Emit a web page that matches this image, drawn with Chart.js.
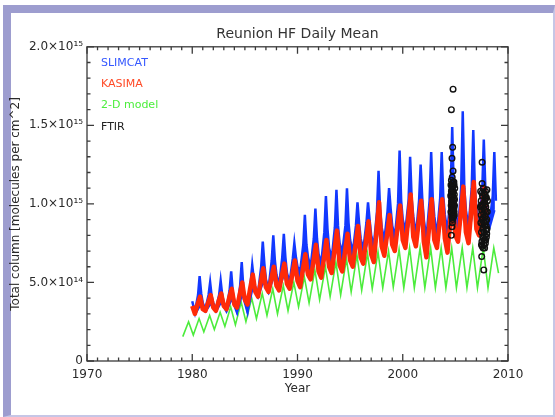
<!DOCTYPE html>
<html>
<head>
<meta charset="utf-8">
<script src="https://cdn.jsdelivr.net/npm/chart.js@4.4.0/dist/chart.umd.min.js"></script>
<style>
  html, body { margin: 0; padding: 0; background: #fff; }
  #wrap { position: relative; width: 555px; height: 417px; }
  #frame {
    position: absolute; left: 3px; top: 5px; width: 552px; height: 412px;
    box-sizing: border-box; border-style: solid; border-width: 8px 2px 2px 8px;
    border-color: #9d9dcf #c6c6e6 #c6c6e6 #9d9dcf;
  }
  #chart { position: absolute; left: 0; top: 0; }
</style>
</head>
<body>
<div id="wrap">
  <div id="frame"></div>
  <canvas id="chart" width="555" height="417"></canvas>
</div>
<script>
// values are in units of 10^15 molecules/cm2
const xTickLabels = ['1970', '1980', '1990', '2000', '2010'];
const yTickLabels = ['0', '5.0×10¹⁴', '1.0×10¹⁵', '1.5×10¹⁵', '2.0×10¹⁵'];
const seriesNames = ['SLIMCAT', 'KASIMA', '2-D model', 'FTIR'];

// SLIMCAT upper edge of the daily band, one row per year from 1980, sampled at year + slimcatPhases
const slimcatFirstYear = 1980;
const slimcatPhases = [0.0, 0.25, 0.55, 0.7, 0.85];
const slimcatRows = [
  [0.38, 0.31, 0.42, 0.54, 0.43], [0.37, 0.33, 0.42, 0.50, 0.41], [0.37, 0.33, 0.42, 0.51, 0.42],
  [0.37, 0.33, 0.45, 0.57, 0.44], [0.38, 0.32, 0.48, 0.63, 0.47], [0.40, 0.32, 0.50, 0.61, 0.52],
  [0.46, 0.43, 0.60, 0.76, 0.62], [0.52, 0.46, 0.64, 0.80, 0.64], [0.55, 0.48, 0.66, 0.81, 0.66],
  [0.56, 0.50, 0.65, 0.75, 0.66], [0.60, 0.57, 0.74, 0.93, 0.74], [0.66, 0.60, 0.78, 0.97, 0.78],
  [0.68, 0.62, 0.82, 1.05, 0.84], [0.72, 0.65, 0.85, 1.09, 0.86], [0.75, 0.69, 0.86, 1.10, 0.88],
  [0.77, 0.69, 0.86, 1.01, 0.88], [0.78, 0.71, 0.88, 1.01, 0.90], [0.80, 0.73, 0.95, 1.21, 0.96],
  [0.85, 0.77, 0.95, 1.10, 0.97], [0.86, 0.79, 1.00, 1.34, 1.02], [0.90, 0.83, 1.02, 1.30, 1.03],
  [0.92, 0.80, 1.02, 1.25, 1.04], [0.90, 0.78, 1.02, 1.33, 1.04], [0.92, 0.80, 1.03, 1.33, 1.05],
  [0.93, 0.82, 1.08, 1.49, 1.08], [0.95, 0.84, 1.10, 1.59, 1.10], [0.96, 0.85, 1.10, 1.47, 1.10],
  [0.97, 0.88, 1.08, 1.41, 1.10], [0.97, 0.88, 1.05, 1.33, 1.02]
];
// SLIMCAT lower edge of the daily band
const slimcatLowPhases = [0.25, 0.75];
const slimcatLowRows = [
  [0.29, 0.35], [0.31, 0.36], [0.31, 0.37], [0.31, 0.39], [0.30, 0.42], [0.30, 0.46],
  [0.40, 0.50], [0.43, 0.53], [0.45, 0.55], [0.46, 0.57], [0.49, 0.60], [0.53, 0.65],
  [0.55, 0.68], [0.58, 0.72], [0.60, 0.72], [0.62, 0.75], [0.64, 0.78], [0.66, 0.85],
  [0.70, 0.83], [0.72, 0.88], [0.75, 0.92], [0.74, 0.92], [0.70, 0.90], [0.74, 0.92],
  [0.72, 0.92], [0.78, 0.96], [0.78, 0.98], [0.82, 0.98], [0.84, 0.96]
];

// KASIMA
const kasimaFirstYear = 1980;
const kasimaPhases = [0.0, 0.25, 0.5, 0.75, 0.9];
const kasimaRows = [
  [0.35, 0.30, 0.36, 0.41, 0.36], [0.33, 0.32, 0.37, 0.42, 0.37], [0.34, 0.32, 0.38, 0.43, 0.38],
  [0.35, 0.33, 0.40, 0.46, 0.40], [0.36, 0.34, 0.42, 0.50, 0.43], [0.39, 0.36, 0.46, 0.55, 0.48],
  [0.44, 0.41, 0.50, 0.59, 0.51], [0.47, 0.44, 0.52, 0.60, 0.53], [0.48, 0.45, 0.54, 0.62, 0.54],
  [0.49, 0.46, 0.55, 0.64, 0.56], [0.51, 0.47, 0.58, 0.68, 0.59], [0.55, 0.52, 0.63, 0.74, 0.64],
  [0.57, 0.53, 0.65, 0.77, 0.66], [0.60, 0.56, 0.70, 0.83, 0.70], [0.61, 0.57, 0.69, 0.81, 0.70],
  [0.64, 0.60, 0.73, 0.86, 0.74], [0.66, 0.62, 0.76, 0.89, 0.77], [0.68, 0.63, 0.82, 1.01, 0.83],
  [0.73, 0.67, 0.80, 0.93, 0.81], [0.74, 0.70, 0.85, 0.99, 0.86], [0.77, 0.72, 0.89, 1.06, 0.90],
  [0.79, 0.73, 0.88, 1.02, 0.89], [0.76, 0.66, 0.85, 1.03, 0.86], [0.77, 0.72, 0.88, 1.03, 0.88],
  [0.78, 0.69, 0.88, 1.07, 0.89], [0.80, 0.76, 0.93, 1.11, 0.93], [0.82, 0.75, 0.95, 1.14, 0.95],
  [0.84, 0.80, 0.95, 1.10, 0.90]
];

// 2-D model: seasonal minimum and maximum per year
const modelFirstYear = 1979;
const modelPhases = [0.1, 0.65];
const modelRows = [
  [0.155, 0.25], [0.165, 0.27], [0.185, 0.29], [0.20, 0.31], [0.22, 0.345], [0.23, 0.375],
  [0.25, 0.40], [0.27, 0.43], [0.29, 0.46], [0.30, 0.48], [0.32, 0.50], [0.345, 0.535],
  [0.37, 0.58], [0.39, 0.60], [0.41, 0.63], [0.42, 0.65], [0.44, 0.675], [0.45, 0.685],
  [0.46, 0.695], [0.465, 0.70], [0.47, 0.71], [0.465, 0.72], [0.465, 0.72], [0.465, 0.72],
  [0.465, 0.72], [0.465, 0.72], [0.465, 0.72], [0.465, 0.72], [0.465, 0.72], [0.465, 0.72],
  [0.56, null]
];

// FTIR daily means
const ftirYears = [
  2004.78, 2004.62, 2004.74, 2004.68, 2004.78, 2004.70, 2004.72, 2004.68, 2004.62,
  2004.58, 2004.62, 2004.66, 2004.70, 2004.74, 2004.78, 2004.82, 2004.86, 2004.90, 2004.94,
  2004.60, 2004.64, 2004.68, 2004.72, 2004.76, 2004.80, 2004.84, 2004.88, 2004.92, 2004.56,
  2004.70, 2004.86, 2004.62, 2004.80, 2004.66, 2004.74, 2004.90, 2004.58,
  2004.64, 2004.72, 2004.80, 2004.88, 2004.60, 2004.68, 2004.76, 2004.84, 2004.92, 2004.66,
  2004.74, 2004.82, 2004.70, 2004.78, 2004.86, 2004.64, 2004.72,
  2007.54, 2007.54, 2007.50, 2007.70,
  2007.40, 2007.45, 2007.50, 2007.55, 2007.60, 2007.65, 2007.70, 2007.75, 2007.80, 2007.85,
  2007.90, 2007.95, 2008.00, 2007.42, 2007.48, 2007.52, 2007.58, 2007.62, 2007.68, 2007.72,
  2007.78, 2007.82, 2007.88, 2007.92, 2007.98, 2008.03, 2007.45, 2007.55, 2007.65, 2007.75,
  2007.85, 2007.95, 2008.05, 2007.38, 2007.60, 2007.70, 2007.80, 2007.90, 2008.00,
  2007.44, 2007.52, 2007.62, 2007.72, 2007.84, 2007.94, 2007.48, 2007.58, 2007.68, 2007.78,
  2007.88, 2007.98, 2007.56, 2007.66, 2007.76, 2007.86, 2007.64, 2007.74, 2007.82, 2007.92
];
const ftirValues = [
  1.73, 1.60, 1.36, 1.29, 1.21, 1.17, 0.88, 0.855, 0.80,
  1.12, 1.08, 1.04, 1.00, 0.96, 0.93, 0.97, 1.02, 1.06, 1.10,
  0.99, 0.94, 1.11, 1.13, 1.07, 1.03, 0.92, 0.95, 0.99, 1.05,
  0.91, 1.14, 1.15, 1.12, 0.97, 1.05, 0.93, 0.95,
  1.01, 0.98, 1.08, 1.12, 1.06, 0.92, 1.14, 0.99, 1.03, 1.09,
  0.90, 0.95, 1.07, 1.00, 0.97, 1.02, 1.10,
  1.265, 1.13, 0.665, 0.58,
  1.08, 1.02, 0.96, 0.90, 0.84, 0.78, 0.74, 0.80, 0.86, 0.92,
  0.98, 1.04, 1.09, 0.88, 0.82, 0.76, 1.05, 1.00, 0.94, 0.88,
  0.72, 1.06, 0.77, 0.83, 0.90, 0.95, 0.93, 0.73, 1.10, 1.01,
  0.75, 0.79, 1.02, 0.98, 0.79, 1.07, 0.96, 0.89, 0.84,
  0.99, 1.07, 0.91, 0.82, 1.00, 0.86, 0.74, 0.87, 0.97, 0.92,
  1.04, 0.81, 0.99, 0.85, 0.77, 1.08, 0.72, 0.89, 1.03, 0.95
];

const seriesColors = ['#1238ff', '#ff2a08', '#4cec3c', '#111111'];
const labelColors = ['#3558ff', '#ff4a26', '#4cee3c', '#222222'];

const toPoints = (rows, firstYear, phases) => rows.flatMap((row, i) =>
  row.map((v, j) => ({ x: firstYear + i + phases[j], y: v })).filter(p => p.y !== null));

Chart.defaults.font.family = "'DejaVu Sans', sans-serif";
Chart.defaults.color = '#2a2a2a';

const boxTicks = {
  id: 'boxTicks',
  afterDatasetsDraw(chart) {
    const { ctx, chartArea: a, scales: { x, y } } = chart;
    ctx.save();
    ctx.strokeStyle = '#3a3a3a';
    ctx.lineWidth = 1.3;
    ctx.strokeRect(a.left, a.top, a.right - a.left, a.bottom - a.top);
    ctx.beginPath();
    for (let yr = x.min; yr <= x.max; yr++) {
      const px = x.getPixelForValue(yr);
      const len = yr % 10 === 0 ? 7 : 3.5;
      ctx.moveTo(px, a.bottom); ctx.lineTo(px, a.bottom - len);
      ctx.moveTo(px, a.top); ctx.lineTo(px, a.top + len);
    }
    for (let k = 0; k <= 20; k++) {
      const py = y.getPixelForValue(k / 10);
      const len = k % 5 === 0 ? 7 : 3.5;
      ctx.moveTo(a.left, py); ctx.lineTo(a.left + len, py);
      ctx.moveTo(a.right, py); ctx.lineTo(a.right - len, py);
    }
    ctx.stroke();

    // legend text in upper left corner
    ctx.font = "11px 'DejaVu Sans', sans-serif";
    ctx.textBaseline = 'middle';
    seriesNames.forEach((name, i) => {
      ctx.fillStyle = labelColors[i];
      ctx.fillText(name, a.left + 14, a.top + 16 + i * 21.3);
    });
    ctx.restore();
  }
};

new Chart(document.getElementById('chart'), {
  type: 'line',
  data: {
    datasets: [
      {
        label: seriesNames[3], order: 0, showLine: false,
        data: ftirYears.map((yr, i) => ({ x: yr, y: ftirValues[i] })),
        pointStyle: 'circle', pointRadius: 2.8, pointBorderWidth: 1.4,
        pointBorderColor: seriesColors[3], pointBackgroundColor: 'rgba(0,0,0,0)'
      },
      {
        label: seriesNames[1], order: 1,
        data: toPoints(kasimaRows, kasimaFirstYear, kasimaPhases),
        borderColor: seriesColors[1], borderWidth: 4.5, borderJoinStyle: 'round', pointRadius: 0
      },
      {
        label: seriesNames[0], order: 2,
        data: toPoints(slimcatRows, slimcatFirstYear, slimcatPhases),
        borderColor: seriesColors[0], backgroundColor: seriesColors[0],
        borderWidth: 2.5, pointRadius: 0, fill: '+1'
      },
      {
        label: seriesNames[0] + ' low', order: 2,
        data: toPoints(slimcatLowRows, slimcatFirstYear, slimcatLowPhases),
        borderColor: seriesColors[0], borderWidth: 1.5, pointRadius: 0
      },
      {
        label: seriesNames[2], order: 3,
        data: toPoints(modelRows, modelFirstYear, modelPhases),
        borderColor: seriesColors[2], borderWidth: 1.6, pointRadius: 0
      }
    ]
  },
  options: {
    responsive: false,
    animation: false,
    layout: { padding: { left: 0, right: 47, top: 0, bottom: 0 } },
    plugins: {
      legend: { display: false },
      tooltip: { enabled: false },
      title: {
        display: true, fullSize: false, text: 'Reunion HF Daily Mean',
        color: '#333', font: { size: 14, weight: 'normal' },
        padding: { top: 26, bottom: 4 }
      }
    },
    scales: {
      x: {
        type: 'linear', min: 1970, max: 2010,
        afterFit: s => { s.height = 56; },
        grid: { drawOnChartArea: false, drawTicks: false },
        border: { display: false },
        ticks: {
          stepSize: 10, padding: 7, maxRotation: 0, font: { size: 12 },
          callback: v => xTickLabels[(v - 1970) / 10]
        },
        title: { display: true, text: 'Year', font: { size: 12 }, padding: { top: 0, bottom: 21 } }
      },
      y: {
        min: 0, max: 2.0,
        afterFit: s => { s.width = 87; },
        grid: { drawOnChartArea: false, drawTicks: false },
        border: { display: false },
        ticks: {
          stepSize: 0.5, padding: 4, font: { size: 12 },
          callback: v => yTickLabels[Math.round(v / 0.5)]
        },
        title: {
          display: true, text: 'Total column [molecules per cm^2]',
          font: { size: 12 }, padding: { top: 9, bottom: 0 }
        }
      }
    }
  },
  plugins: [boxTicks]
});
</script>
</body>
</html>
